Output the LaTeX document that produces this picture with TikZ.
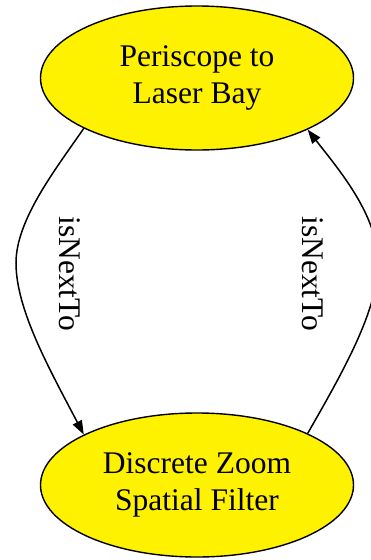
\documentclass[tikz,border=0pt]{standalone}
\usepackage{fontspec}
\setmainfont{Liberation Serif}
\usetikzlibrary{arrows.meta,shapes.geometric}
\tikzset{
  ent/.style={ellipse, draw=black, line width=1.4pt, fill=yellow, minimum width=313pt, minimum height=144pt, inner sep=0pt, align=center, font=\fontsize{31.5}{37}\selectfont},
  rel/.style={draw=black, line width=1.5pt, -{Triangle[length=14pt,width=10pt]}},
  lbl/.style={rotate=-90, font=\fontsize{31.5}{37}\selectfont, inner sep=0pt}
}
\begin{document}
\begin{tikzpicture}[x=1pt,y=-1pt]
\useasboundingbox (0,0) rectangle (370,560);
\node[ent] (top) at (197,78) {Periscope to\\Laser Bay};
\node[ent] (bot) at (197,485) {Discrete Zoom\\Spatial Filter};
\coordinate (lm) at (16,263);
\coordinate (rm) at (378,263);
\draw[rel] (top.-156) .. controls (55,170) and (16,220) .. (lm) .. controls (16,310) and (50,370) .. (bot.156);
\draw[rel] (bot.25) .. controls (344,370) and (378,310) .. (rm) .. controls (378,215) and (339,170) .. (top.-25);
\node[lbl] (l1) at (70,274) {isNextTo};
\node[lbl] (l2) at (313,274) {isNextTo};
\end{tikzpicture}
\end{document}
